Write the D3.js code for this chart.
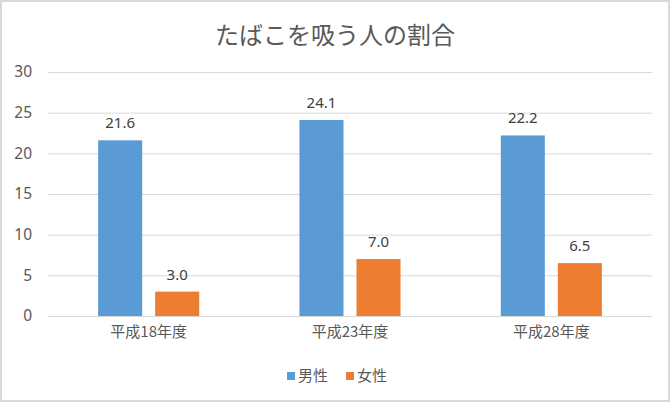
<!DOCTYPE html>
<html><head><meta charset="utf-8">
<script src="https://cdn.jsdelivr.net/npm/d3@7"></script>
<style>
html,body{margin:0;padding:0;background:#fff;}
svg{display:block;font-family:"Noto Sans CJK JP","Noto Sans",sans-serif;}
</style></head>
<body>
<svg id="chart" width="672" height="404"></svg>
<script>
const title = "たばこを吸う人の割合";
const categories = ["平成18年度", "平成23年度", "平成28年度"];
const seriesNames = ["男性", "女性"];
const male = [21.6, 24.1, 22.2];
const female = [3.0, 7.0, 6.5];
const yTicks = [0, 5, 10, 15, 20, 25, 30];
const colors = ["#5B9BD5", "#ED7D31"];

(function(){
const series = [male, female];
const svg = d3.select("#chart");
const pLeft = 48, pRight = 652, pTop = 72, pBottom = 316;

svg.append("rect").attr("x",1).attr("y",1).attr("width",668).attr("height",400)
  .attr("fill","#fff").attr("stroke","#d9d9d9").attr("stroke-width",2);

svg.append("text").attr("x",335).attr("y",44).attr("text-anchor","middle")
  .attr("font-size",24).attr("fill","#595959").text(title);

const y = d3.scaleLinear().domain([0,30]).range([pBottom, pTop]);
const x0 = d3.scaleBand().domain(categories).range([pLeft,pRight]).paddingInner(0.498).paddingOuter(0.249);
const x1 = d3.scaleBand().domain(seriesNames).range([0, x0.bandwidth()]).paddingInner(0.228).paddingOuter(0);

const yAxis = d3.axisLeft(y).tickValues(yTicks).tickSize(-(pRight-pLeft)).tickPadding(16);
const ga = svg.append("g").attr("transform",`translate(${pLeft},0)`).call(yAxis);
ga.select(".domain").remove();
ga.selectAll(".tick line").attr("stroke","#d9d9d9").attr("stroke-width",1);
ga.selectAll(".tick text").attr("fill","#595959").attr("font-size",15.5)
  .attr("font-family","'Noto Sans','Noto Sans CJK JP',sans-serif");

const groups = svg.append("g").selectAll("g").data(categories).join("g")
  .attr("transform", d => `translate(${x0(d)},0)`);
seriesNames.forEach((s, si) => {
  groups.append("rect")
    .attr("x", x1(s)).attr("width", x1.bandwidth())
    .attr("y", (d,i) => y(series[si][i]))
    .attr("height", (d,i) => y(0) - y(series[si][i]))
    .attr("fill", colors[si]);
  groups.append("text")
    .attr("x", x1(s) + x1.bandwidth()/2)
    .attr("y", (d,i) => y(series[si][i]) - 12)
    .attr("text-anchor","middle").attr("font-size",15).attr("fill","#404040")
    .attr("font-family","'Noto Sans','Noto Sans CJK JP',sans-serif")
    .text((d,i) => series[si][i].toFixed(1));
});

const xAxis = d3.axisBottom(x0).tickSize(0).tickPadding(10);
const gx = svg.append("g").attr("transform",`translate(0,${pBottom})`).call(xAxis);
gx.select(".domain").attr("stroke","#d9d9d9");
gx.selectAll(".tick text").attr("fill","#595959").attr("font-size",15)
  .attr("font-family","'Noto Sans CJK JP',sans-serif");

const legend = svg.append("g");
const lx = [287, 346];
seriesNames.forEach((s, i) => {
  legend.append("rect").attr("x", lx[i]).attr("y", 372).attr("width", 8).attr("height", 8).attr("fill", colors[i]);
  legend.append("text").attr("x", lx[i] + 11).attr("y", 381).attr("font-size",15).attr("fill","#595959").text(s);
});
})();
</script>
</body></html>
